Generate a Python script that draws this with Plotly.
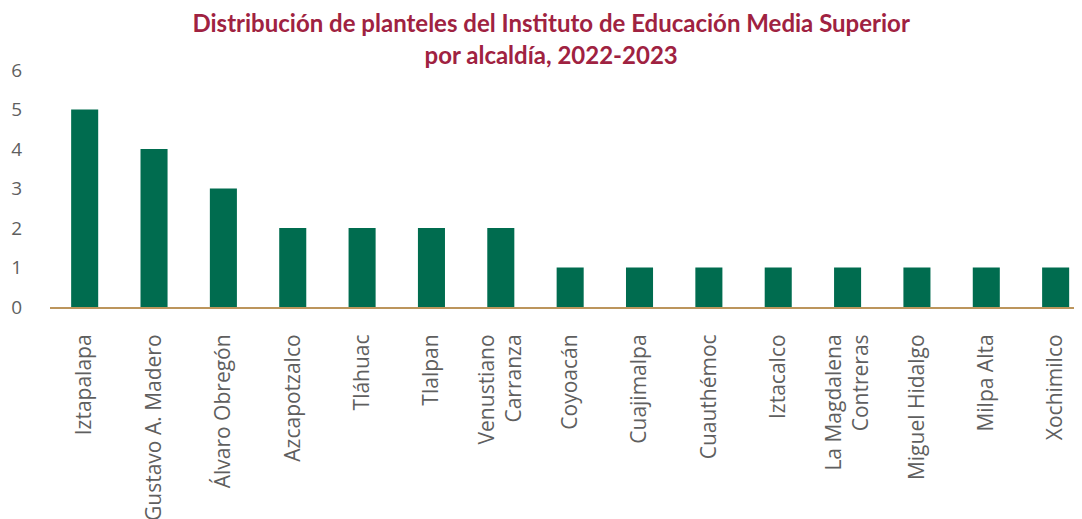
import plotly.graph_objects as go

# Datos
alcaldias = ["Iztapalapa", "Gustavo A. Madero", "Álvaro Obregón", "Azcapotzalco", "Tláhuac",
             "Tlalpan", "Venustiano<br>Carranza", "Coyoacán", "Cuajimalpa", "Cuauthémoc",
             "Iztacalco", "La Magdalena<br>Contreras", "Miguel Hidalgo", "Milpa Alta", "Xochimilco"]
planteles = [5, 4, 3, 2, 2, 2, 2, 1, 1, 1, 1, 1, 1, 1, 1]
y_ticks = [0, 1, 2, 3, 4, 5, 6]

fig = go.Figure()

fig.add_trace(go.Bar(x=alcaldias, y=planteles, marker=dict(color="#006C4F", line=dict(width=0))))

# la página tiene 8px de margen en el body, se compensa en los márgenes
fig.update_layout(
    width=1082, height=519,
    paper_bgcolor="white", plot_bgcolor="white",
    margin=dict(l=42, r=8, t=62, b=220),
    bargap=0.61,
    showlegend=False,
    font=dict(family="Open Sans, sans-serif", color="#5f5f5f"),
    title=dict(
        text="<b>Distribución de planteles del Instituto de Educación Media Superior<br>por alcaldía, 2022-2023</b>",
        x=0.502, xanchor="center", yref="container", y=0.953, yanchor="top",
        font=dict(size=24, color="#9F2241", family="Lato, sans-serif"),
    ),
)

fig.update_xaxes(
    range=[-0.5, 14.38],
    tickangle=-90,
    tickfont=dict(size=21, color="#5f5f5f"),
    showline=True, linecolor="#BC955C", linewidth=2,
    showgrid=False, ticks="", ticklabelstandoff=17,
    automargin=False,
)

fig.update_yaxes(
    range=[0, 6],
    tickvals=y_ticks,
    tickfont=dict(size=19, color="#5f5f5f"),
    showgrid=False, zeroline=False, showline=False,
    ticks="", ticklabelstandoff=27,
    automargin=False,
)

fig.write_html("out.html")
